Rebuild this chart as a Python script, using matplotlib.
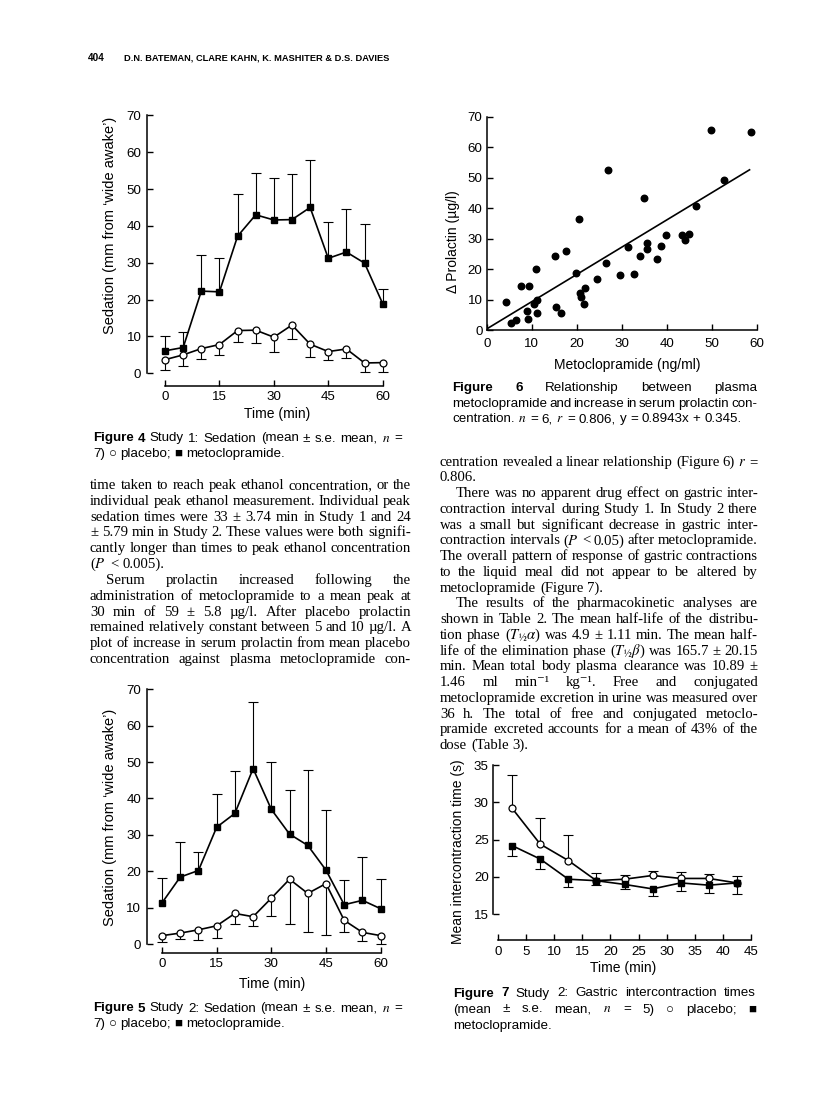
import numpy as np
import matplotlib.pyplot as plt

plt.rcParams['font.family'] = ['Liberation Sans', 'DejaVu Sans']
plt.rcParams['mathtext.fontset'] = 'stix'

# Figure 4 - Study 1: sedation (mean +/- s.e.)
t_sed = [0, 5, 10, 15, 20, 25, 30, 35, 40, 45, 50, 55, 60]
meto_s1 = [6.1, 7.0, 22.3, 22.1, 37.2, 43.0, 41.6, 41.7, 45.0, 31.2, 32.9, 29.9, 18.9]
meto_s1_se = [3.9, 4.1, 9.9, 9.3, 11.5, 11.4, 11.5, 12.4, 12.9, 9.8, 11.8, 10.6, 3.9]
plac_s1 = [3.7, 5.0, 6.7, 7.8, 11.6, 11.7, 9.8, 13.1, 7.9, 5.9, 6.6, 2.8, 2.9]
plac_s1_se = [2.7, 2.9, 2.7, 2.8, 3.2, 3.6, 3.9, 3.7, 3.6, 2.2, 2.4, 2.5, 2.6]

# Figure 5 - Study 2: sedation
meto_s2 = [11.3, 18.4, 20.2, 32.1, 35.9, 48.2, 37.0, 30.2, 27.1, 20.3, 10.8, 12.0, 9.7]
meto_s2_se = [6.9, 9.5, 5.1, 9.1, 11.6, 18.4, 12.9, 12.2, 20.8, 16.5, 6.7, 11.9, 8.1]
plac_s2 = [2.3, 3.0, 3.9, 5.0, 8.4, 7.5, 12.6, 17.8, 13.9, 16.6, 6.5, 3.2, 2.3]
plac_s2_se = [1.8, 1.6, 2.7, 3.3, 3.0, 2.6, 4.9, 12.4, 10.5, 14.0, 3.3, 2.3, 2.2]

# Figure 6 - prolactin vs metoclopramide
meto_conc = [4.2, 5.3, 6.6, 7.7, 8.9, 9.2, 9.3, 10.6, 11.0, 11.1, 11.2, 15.2, 15.3, 16.4,
             17.6, 19.8, 20.6, 20.7, 21.0, 21.6, 21.8, 24.4, 26.4, 26.9, 29.6, 31.3, 32.7,
             34.1, 35.0, 35.6, 35.6, 37.8, 38.8, 39.8, 43.3, 44.1, 45.0, 46.4, 49.9, 52.8, 58.7]
d_prolactin = [9.3, 2.2, 3.3, 14.3, 6.3, 3.5, 14.4, 8.5, 19.9, 5.7, 9.7, 24.2, 7.7, 5.5,
               25.8, 18.6, 36.4, 12.3, 10.9, 8.5, 13.8, 16.8, 22.0, 52.6, 17.9, 27.4, 18.5,
               24.2, 43.4, 28.4, 26.7, 23.4, 27.6, 31.1, 31.3, 29.5, 31.4, 40.6, 65.5, 49.3, 65.1]
fit_slope, fit_icpt = 0.8943, 0.345
fit_x = [0, 58.4]

# Figure 7 - gastric intercontraction times
t_gas = [2.5, 7.5, 12.5, 17.5, 22.5, 27.5, 32.5, 37.5, 42.5]
plac_gas = [29.2, 24.4, 22.2, 19.5, 19.7, 20.2, 19.8, 19.8, 19.2]
plac_gas_se = [4.5, 3.5, 3.4, 1.0, 0.5, 0.65, 0.8, 0.6, 0.9]
meto_gas = [24.2, 22.4, 19.7, 19.5, 19.0, 18.4, 19.2, 18.9, 19.2]
meto_gas_se = [1.4, 1.3, 1.1, 0.6, 0.6, 0.9, 1.1, 1.1, 1.5]

W, H = 816, 1120
SERIF = ['Liberation Serif', 'DejaVu Serif']
SANS = ['Liberation Sans', 'DejaVu Sans']
CAP = 9.6  # caption size

fig = plt.figure(figsize=(W / 100, H / 100), dpi=100)
renderer = fig.canvas.get_renderer()


def fx(x):
    return x / W


def fy(y):
    return 1 - y / H


def line(s, x0, x1, y, justify=True, size=10.6, family=SERIF, bold=0):
    # one line of text, word by word so it can be justified like the page
    words = s.split()
    objs = [fig.text(0, fy(y), w, size=size, family=family, va='baseline',
                     weight='bold' if i < bold else 'normal')
            for i, w in enumerate(words)]
    widths = [o.get_window_extent(renderer).width for o in objs]
    if justify and len(words) > 1:
        gap = (x1 - x0 - sum(widths)) / (len(words) - 1)
    else:
        gap = 0.27 * size * 100 / 72
    x = x0
    for o, w in zip(objs, widths):
        o.set_x(fx(x))
        x += w + gap


def block(lines, x0, x1, y0, step, **kw):
    for i, (s, just) in enumerate(lines):
        indent = 16 if s.startswith('  ') else 0
        line(s, x0 + indent, x1, y0 + i * step, justify=just, **kw)


def make_axes(l, t, r, b, xpad=3.5, ypad=4):
    ax = fig.add_axes([fx(l), fy(b), (r - l) / W, (b - t) / H])
    ax.spines[['top', 'right']].set_visible(False)
    for sp in ax.spines.values():
        sp.set_linewidth(1.1)
    ax.patch.set_visible(False)
    ax.tick_params(direction='in', length=4, width=1.0, labelsize=9.6)
    ax.tick_params(axis='x', pad=xpad)
    ax.tick_params(axis='y', pad=ypad)
    return ax


def series(ax, x, y, err, up, filled):
    x, y, err = np.array(x), np.array(y), np.array(err)
    end = y + err if up else y - err
    ax.vlines(x, y, end, color='k', lw=0.8, clip_on=False)
    ax.plot(x, end, ls='none', marker='_', ms=6.5, mew=0.8, color='k', clip_on=False)
    if filled:
        ax.plot(x, y, '-s', color='k', ms=4.2, lw=1.2, clip_on=False, zorder=3)
    else:
        ax.plot(x, y, '-o', color='k', mfc='white', ms=5, mew=0.9, lw=1.2,
                clip_on=False, zorder=3)


def label(x, y, s, rot=0, size=10):
    fig.text(fx(x), fy(y), s, ha='center', va='center', rotation=rot, size=size)


# page header
fig.text(fx(88), fy(61), '404', weight='bold', size=7.2, va='baseline')
fig.text(fx(124), fy(61), 'D.N. BATEMAN, CLARE KAHN, K. MASHITER & D.S. DAVIES',
         weight='bold', size=6.7, va='baseline')

# ---- Figure 4 ----
ax4 = make_axes(146.9, 115.3, 386.3, 386.2)
series(ax4, t_sed, meto_s1, meto_s1_se, True, True)
series(ax4, t_sed, plac_s1, plac_s1_se, False, False)
ax4.set_xlim(-5, 61)
ax4.set_ylim(-3.5, 70)
ax4.spines['bottom'].set_bounds(0, 60)
ax4.spines['left'].set_bounds(0, 70)
ax4.set_xticks([0, 15, 30, 45, 60])
ax4.set_yticks(range(0, 71, 10))
label(277, 414, 'Time (min)')
label(110, 225, 'Sedation (mm from \u2018wide awake\u2019)', rot=90, size=10.5)
line('Figure 4 Study 1: Sedation (mean \u00b1 s.e. mean, $n$ =', 93, 402, 441.5,
     size=CAP, family=SANS, bold=2)
line('7) \u25cb placebo; \u25a0 metoclopramide.', 93, 402, 456.5, justify=False,
     size=CAP, family=SANS)

# ---- Figure 5 ----
ax5 = make_axes(146.7, 689.3, 384.3, 953.1)
series(ax5, t_sed, meto_s2, meto_s2_se, True, True)
series(ax5, t_sed, plac_s2, plac_s2_se, False, False)
ax5.set_xlim(-4.2, 61)
ax5.set_ylim(-2.5, 70)
ax5.spines['bottom'].set_bounds(0, 60)
ax5.spines['left'].set_bounds(0, 70)
ax5.set_xticks([0, 15, 30, 45, 60])
ax5.set_yticks(range(0, 71, 10))
label(272, 984, 'Time (min)')
label(110, 817, 'Sedation (mm from \u2018wide awake\u2019)', rot=90, size=10.5)
line('Figure 5 Study 2: Sedation (mean \u00b1 s.e. mean, $n$ =', 93, 402, 1011.5,
     size=CAP, family=SANS, bold=2)
line('7) \u25cb placebo; \u25a0 metoclopramide.', 93, 402, 1027, justify=False,
     size=CAP, family=SANS)

# ---- Figure 6 ----
ax6 = make_axes(486.7, 116.7, 759, 330, xpad=5.5, ypad=3)
ax6.scatter(meto_conc, d_prolactin, s=22, color='k', clip_on=False, zorder=3)
ax6.plot(fit_x, [fit_slope * v + fit_icpt for v in fit_x], color='k', lw=1.2)
ax6.set_xlim(0, 60.5)
ax6.set_ylim(0, 70)
ax6.spines['bottom'].set_bounds(0, 60)
ax6.set_xticks(range(0, 61, 10))
ax6.set_yticks(range(0, 71, 10))
label(627, 365, 'Metoclopramide (ng/ml)')
label(453, 242, '\u0394 Prolactin (\u00b5g/l)', rot=90)
line('Figure 6 Relationship between plasma', 452, 757, 391.5, size=CAP, family=SANS, bold=2)
line('metoclopramide and increase in serum prolactin con-', 452, 757, 407,
     size=CAP, family=SANS)
line('centration. $n$ = 6, $r$ = 0.806, y = 0.8943x + 0.345.', 452, 757, 422.5,
     justify=False, size=CAP, family=SANS)

# ---- Figure 7 ----
ax7 = make_axes(493, 765, 753.8, 940.4, xpad=4, ypad=3)
series(ax7, t_gas, plac_gas, plac_gas_se, True, False)
series(ax7, t_gas, meto_gas, meto_gas_se, False, True)
ax7.set_xlim(-0.9, 45.5)
ax7.set_ylim(11.5, 35)
ax7.spines['bottom'].set_bounds(0, 45)
ax7.spines['left'].set_bounds(15, 35)
ax7.set_xticks(range(0, 46, 5))
ax7.set_yticks(range(15, 36, 5))
label(623, 968, 'Time (min)')
label(458, 852, 'Mean intercontraction time (s)', rot=90)
line('Figure 7 Study 2: Gastric intercontraction times', 453, 756, 996.5,
     size=CAP, family=SANS, bold=2)
line('(mean \u00b1 s.e. mean, $n$ = 5) \u25cb placebo; \u25a0', 453, 756, 1012.5,
     size=CAP, family=SANS)
line('metoclopramide.', 453, 756, 1028.5, justify=False, size=CAP, family=SANS)

# ---- body text, left column ----
left_col = [
    ('time taken to reach peak ethanol concentration, or the', True),
    ('individual peak ethanol measurement. Individual peak', True),
    ('sedation times were 33 \u00b1 3.74 min in Study 1 and 24', True),
    ('\u00b1 5.79 min in Study 2. These values were both signifi-', True),
    ('cantly longer than times to peak ethanol concentration', True),
    ('($P$ < 0.005).', False),
    ('  Serum prolactin increased following the', True),
    ('administration of metoclopramide to a mean peak at', True),
    ('30 min of 59 \u00b1 5.8 \u00b5g/l. After placebo prolactin', True),
    ('remained relatively constant between 5 and 10 \u00b5g/l. A', True),
    ('plot of increase in serum prolactin from mean placebo', True),
    ('concentration against plasma metoclopramide con-', True),
]
block(left_col, 90, 411, 489, 15.82)

# ---- body text, right column ----
right_col = [
    ('centration revealed a linear relationship (Figure 6) $r$ =', True),
    ('0.806.', False),
    ('  There was no apparent drug effect on gastric inter-', True),
    ('contraction interval during Study 1. In Study 2 there', True),
    ('was a small but significant decrease in gastric inter-', True),
    ('contraction intervals ($P$ < 0.05) after metoclopramide.', True),
    ('The overall pattern of response of gastric contractions', True),
    ('to the liquid meal did not appear to be altered by', True),
    ('metoclopramide (Figure 7).', False),
    ('  The results of the pharmacokinetic analyses are', True),
    ('shown in Table 2. The mean half-life of the distribu-', True),
    ('tion phase ($T_{\u00bd}\\alpha$) was 4.9 \u00b1 1.11 min. The mean half-', True),
    ('life of the elimination phase ($T_{\u00bd}\\beta$) was 165.7 \u00b1 20.15', True),
    ('min. Mean total body plasma clearance was 10.89 \u00b1', True),
    ('1.46 ml min\u207b\u00b9 kg\u207b\u00b9. Free and conjugated', True),
    ('metoclopramide excretion in urine was measured over', True),
    ('36 h. The total of free and conjugated metoclo-', True),
    ('pramide excreted accounts for a mean of 43% of the', True),
    ('dose (Table 3).', False),
]
block(right_col, 440, 758, 465.7, 15.74)

fig.savefig('out.png', dpi=100)
